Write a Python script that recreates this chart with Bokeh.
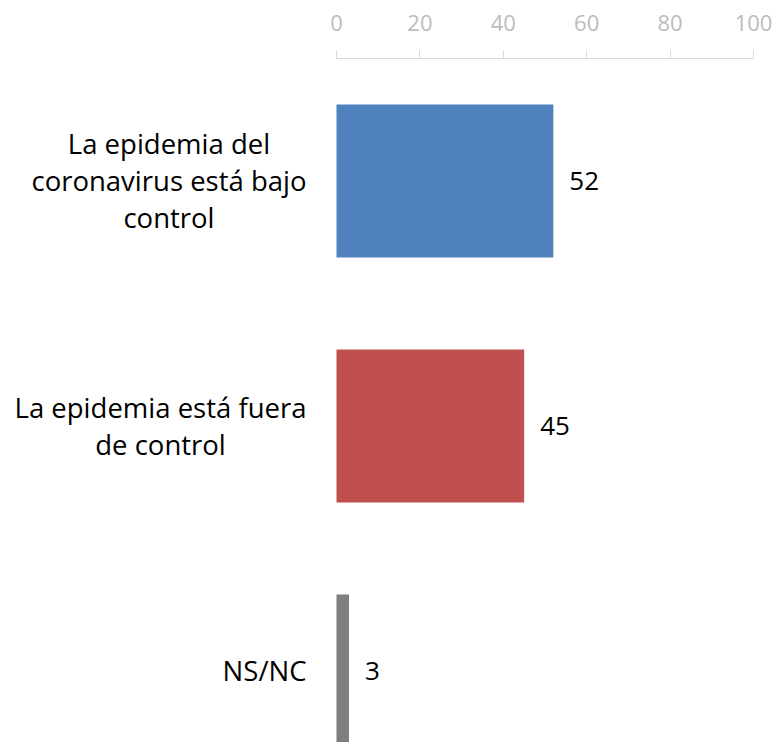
from bokeh.plotting import figure
from bokeh.models import Range1d, FixedTicker, ColumnDataSource, Label
from bokeh.core.properties import value
from bokeh.embed import file_html
from bokeh.resources import INLINE

categories = ["La epidemia del\ncoronavirus está bajo\ncontrol",
              "La epidemia está fuera\nde control",
              "NS/NC"]
values = [52, 45, 3]
colors = ["#4f81bd", "#c0504d", "#7f7f7f"]
x_ticks = [0, 20, 40, 60, 80, 100]

FONT = "Open Sans"
positions = list(range(len(categories)))

W, H = 776, 742
LEFT_PX, SCALE_PX = 336, 417          # frame position of 0 and width of 0..100
x_start = -LEFT_PX * 100 / SCALE_PX
x_end = (W - LEFT_PX) * 100 / SCALE_PX

p = figure(width=W, height=H, output_backend="svg", toolbar_location=None,
           x_axis_location="above",
           x_range=Range1d(x_start, x_end), y_range=Range1d(2.292, -0.5),
           min_border_left=0, min_border_right=0, min_border_top=58,
           min_border_bottom=0)
p.outline_line_color = None
p.xgrid.visible = False
p.ygrid.visible = False
p.yaxis.visible = False

src = ColumnDataSource(dict(y=positions, v=values, c=colors,
                            t=[str(v) for v in values]))
p.hbar(y="y", left=0, right="v", height=0.625, fill_color="c",
       line_color=None, source=src)
p.text(x="v", y="y", text="t", x_offset=16, text_baseline="middle",
       text_font=value(FONT), text_font_size="26px", text_color="#000000",
       source=src)

ax = p.xaxis[0]
ax.ticker = FixedTicker(ticks=x_ticks)
ax.bounds = (x_ticks[0], x_ticks[-1])
ax.axis_line_color = "#d9d9d9"
ax.major_tick_line_color = "#d9d9d9"
ax.minor_tick_line_color = None
ax.major_tick_in = 0
ax.major_tick_out = 8
ax.major_label_standoff = 20
ax.major_label_text_font = FONT
ax.major_label_text_font_size = "22px"
ax.major_label_text_color = "#bcbcbc"

for i, cat in enumerate(categories):
    p.add_layout(Label(x=0, y=i, text=cat, x_offset=-30,
                       text_align="center", text_baseline="middle",
                       anchor="center_right",
                       text_font=FONT, text_font_size="27.5px",
                       text_line_height=1.0, text_color="#000000"))

open("out.html", "w").write(file_html(p, INLINE))
